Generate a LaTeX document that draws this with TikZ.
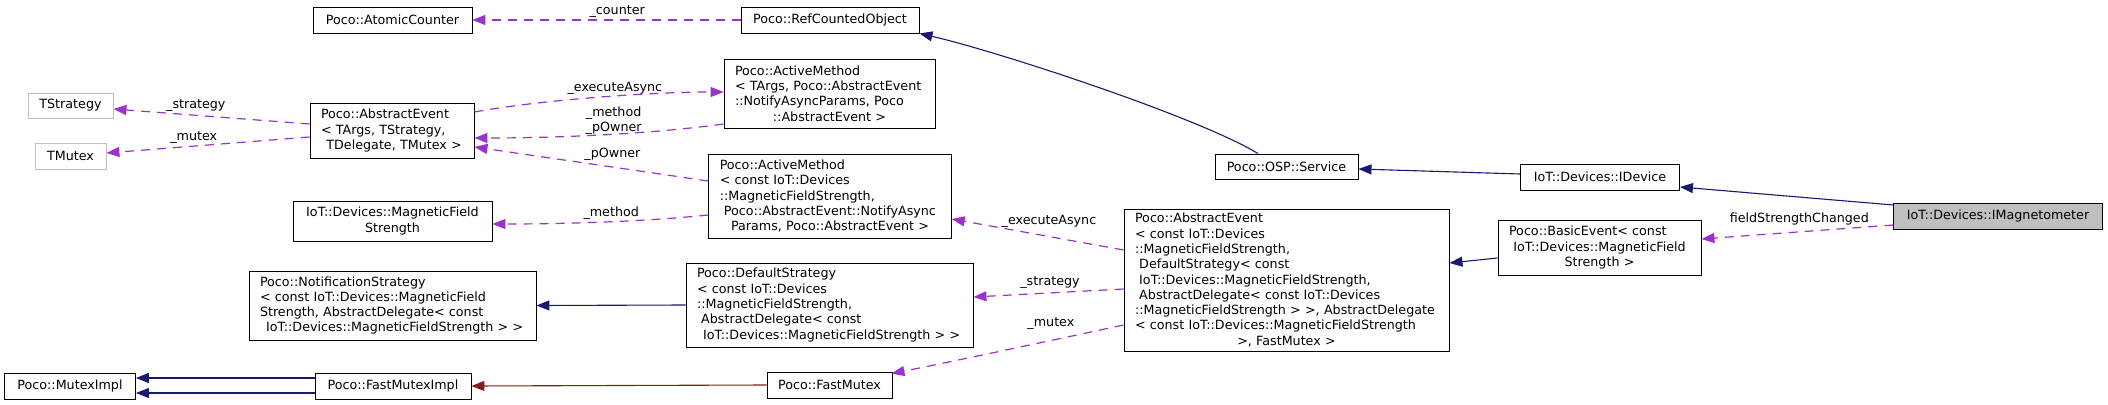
\documentclass[tikz,border=0pt]{standalone}
\usepackage{fontspec}
\setmainfont{DejaVu Sans}
\usetikzlibrary{arrows.meta}
\definecolor{usecol}{HTML}{9A32CD}
\definecolor{inhcol}{HTML}{191970}
\definecolor{privcol}{HTML}{8B1A1A}
\definecolor{graybd}{HTML}{BFBFBF}
\newcommand{\dfont}{\fontsize{12.7pt}{15.3pt}\selectfont}
\newcommand{\Ln}[1]{\mbox{#1}}
\newcommand{\Lc}[1]{\hfill\mbox{#1}\hfill\null}
\begin{document}
\begin{tikzpicture}[x=1pt,y=-1pt,
  box/.style={draw=black, fill=white, line width=0.9pt, inner xsep=11pt, inner ysep=2pt, font=\dfont},
  gbox/.style={box, draw=graybd},
  mbox/.style={box, align=left},
  usee/.style={draw=usecol, line width=1.2pt, dash pattern=on 9pt off 7pt, -{Triangle[length=13pt,width=10pt]}},
  inh/.style={draw=inhcol, line width=1.1pt, -{Triangle[length=13pt,width=10pt]}},
  priv/.style={draw=privcol, line width=1.1pt, -{Triangle[length=13pt,width=10pt]}},
  lbl/.style={font=\dfont, inner sep=0pt, text=black}]
\useasboundingbox[fill=white] (0,0) rectangle (2108,404);

% nodes
\node[box, minimum width=159pt, minimum height=26pt] (ac) at (392.5,20) {Poco::AtomicCounter};
\node[box, minimum width=178pt, minimum height=26pt] (rco) at (830,20) {Poco::RefCountedObject};
\node[gbox, minimum width=85pt, minimum height=25pt] (ts) at (70.5,105.5) {TStrategy};
\node[gbox, minimum width=71pt, minimum height=26pt] (tm) at (70.5,156) {TMutex};
\node[mbox, text width=142pt, minimum height=55pt] (ae) at (392,130.5)
  {\Ln{Poco::AbstractEvent}\\\Ln{< TArgs, TStrategy,}\\\Lc{\ TDelegate, TMutex >}};
\node[mbox, text width=189pt, minimum height=69pt] (am1) at (829.5,93.5)
  {\Ln{Poco::ActiveMethod}\\\Ln{< TArgs, Poco::AbstractEvent}\\\Ln{::NotifyAsyncParams, Poco}\\\Lc{::AbstractEvent >}};
\node[mbox, text width=220.5pt, minimum height=84pt] (am2) at (830,196)
  {\Ln{Poco::ActiveMethod}\\\Ln{< const IoT::Devices}\\\Ln{::MagneticFieldStrength,}\\\Ln{\ Poco::AbstractEvent::NotifyAsync}\\\Lc{Params, Poco::AbstractEvent >}};
\node[box, align=center, text width=177pt, minimum height=40pt] (mfs) at (392.5,221)
  {\Ln{IoT::Devices::MagneticField}\\\Ln{Strength}};
\node[mbox, text width=265pt, minimum height=69pt] (ns) at (392.5,305.5)
  {\Ln{Poco::NotificationStrategy}\\\Ln{< const IoT::Devices::MagneticField}\\\Ln{Strength, AbstractDelegate< const}\\\Lc{\ IoT::Devices::MagneticFieldStrength > >}};
\node[box, minimum width=131pt, minimum height=26pt] (mi) at (70,386) {Poco::MutexImpl};
\node[box, minimum width=156pt, minimum height=26pt] (fmi) at (393,386) {Poco::FastMutexImpl};
\node[box, minimum width=125pt, minimum height=26pt] (fm) at (829.5,385) {Poco::FastMutex};
\node[mbox, text width=265pt, minimum height=84pt] (ds) at (829.5,305)
  {\Ln{Poco::DefaultStrategy}\\\Ln{< const IoT::Devices}\\\Ln{::MagneticFieldStrength,}\\\Ln{\ AbstractDelegate< const}\\\Lc{\ IoT::Devices::MagneticFieldStrength > >}};
\node[mbox, text width=303pt, minimum height=142pt] (ae2) at (1286.5,280)
  {\Ln{Poco::AbstractEvent}\\\Ln{< const IoT::Devices}\\\Ln{::MagneticFieldStrength,}\\\Ln{\ DefaultStrategy< const}\\\Ln{\ IoT::Devices::MagneticFieldStrength,}\\\Ln{\ AbstractDelegate< const IoT::Devices}\\\Ln{::MagneticFieldStrength > >, AbstractDelegate}\\\Ln{< const IoT::Devices::MagneticFieldStrength}\\\Lc{>, FastMutex >}};
\node[box, minimum width=143pt, minimum height=25pt] (svc) at (1286.5,166.5) {Poco::OSP::Service};
\node[box, minimum width=159pt, minimum height=26pt] (idev) at (1600,177) {IoT::Devices::IDevice};
\node[mbox, text width=181pt, minimum height=55pt] (be) at (1599.5,247.5)
  {\Ln{Poco::BasicEvent< const}\\\Ln{\ IoT::Devices::MagneticField}\\\Lc{Strength >}};
\node[box, fill=graybd, minimum width=208.5pt, minimum height=26pt] (imag) at (1998,216) {IoT::Devices::IMagnetometer};

% usage edges
\draw[usee] (rco.west) -- (ac.east) node[lbl, pos=.46, yshift=8pt] {\_counter};
\draw[usee] ([yshift=6.5pt]ae.west) -- ([yshift=-3.5pt]ts.east) node[lbl, pos=.58, yshift=10pt] {\_strategy};
\draw[usee] ([yshift=-6.5pt]ae.west) -- ([yshift=3pt]tm.east) node[lbl, pos=.57, yshift=9pt] {\_mutex};
\draw[usee] ([yshift=18.5pt]ae.east) .. controls (540,100) and (650,92) .. ([yshift=1.5pt]am1.west)
  node[lbl, pos=.57, yshift=8pt] {\_executeAsync};
\draw[usee] ([yshift=-30.5pt]am1.west) .. controls (650,134) and (560,138) .. ([yshift=-7.5pt]ae.east)
  node[lbl, pos=.46, yshift=13.5pt, align=center] {\_method\\\_pOwner};
\draw[usee] ([yshift=15pt]am2.west) -- ([yshift=-16.5pt]ae.east) node[lbl, pos=.41, yshift=13pt] {\_pOwner};
\draw[usee] ([yshift=-19pt]am2.west) .. controls (640,222) and (560,224) .. ([yshift=-3pt]mfs.east)
  node[lbl, pos=.45, yshift=9pt] {\_method};
\draw[usee] ([yshift=30pt]ae2.west) -- ([yshift=-23pt]am2.east) node[lbl, pos=.434, yshift=15pt] {\_executeAsync};
\draw[usee] ([yshift=-9pt]ae2.west) -- ([yshift=8pt]ds.east) node[lbl, pos=.49, yshift=10pt] {\_strategy};
\draw[usee] ([yshift=-45pt]ae2.west) .. controls (1030,345) and (950,362) .. ([xshift=-1pt,yshift=-2pt]fm.north east)
  node[lbl, pos=.27, yshift=17pt] {\_mutex};
\draw[usee] ([yshift=-9pt]imag.west) -- ([yshift=8.5pt]be.east) node[lbl, pos=.49, yshift=13pt] {fieldStrengthChanged};

% inheritance edges
\draw[inh] ([xshift=-28.5pt]svc.north) .. controls (1200,118) and (1000,52) .. (rco.south east);
\draw[inh] ([yshift=3pt]idev.west) -- ([yshift=-2.5pt]svc.east);
\draw[inh] ([yshift=11pt]imag.west) -- ([yshift=-10pt]idev.east);
\draw[inh] ([yshift=-10.5pt]be.west) -- ([yshift=17pt]ae2.east);
\draw[inh] (ds.west) -- (ns.east);
\draw[inh] ([yshift=8pt]fmi.west) -- ([yshift=8pt]mi.east);
\draw[inh] ([yshift=-7pt]fmi.west) -- ([yshift=-7pt]mi.east);
\draw[priv] (fm.west) -- (fmi.east);
\end{tikzpicture}
\end{document}
